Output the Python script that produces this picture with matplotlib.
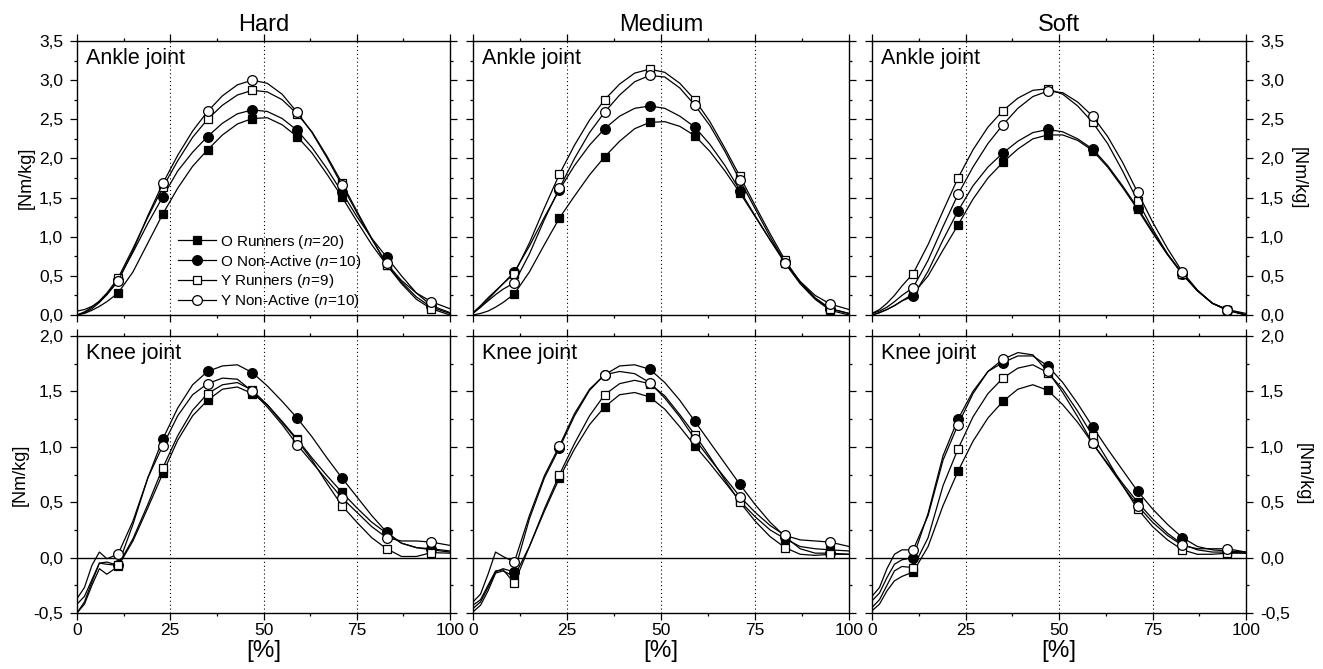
import numpy as np
import matplotlib
matplotlib.use("Agg")
import matplotlib.pyplot as plt
from matplotlib.ticker import MultipleLocator, FuncFormatter

plt.rcParams['font.family'] = ['Liberation Sans', 'DejaVu Sans']
plt.rcParams['mathtext.fontset'] = 'custom'
plt.rcParams['mathtext.it'] = 'Liberation Sans:italic'
plt.rcParams['mathtext.rm'] = 'Liberation Sans'

# --- data ---
PCT = [0, 2, 4, 6, 8, 11, 15, 19, 23, 27, 31, 35, 39, 43, 47, 51, 55, 59,
       63, 67, 71, 75, 79, 83, 87, 91, 95, 100]
SURFACES = ["Hard", "Medium", "Soft"]
JOINTS = ["Ankle joint", "Knee joint"]
GROUPS = ["O Runners ($\\mathit{n}\\!=\\!\\mathit{20}$)",
          "O Non-Active ($\\mathit{n}\\!=\\!\\mathit{10}$)",
          "Y Runners ($\\mathit{n}\\!=\\!\\mathit{9}$)",
          "Y Non-Active ($\\mathit{n}\\!=\\!\\mathit{10}$)"]
X_TICKS = [0, 25, 50, 75, 100]

# ankle, hard
ankle_hard_or  = [0.00, 0.02, 0.06, 0.11, 0.17, 0.28, 0.55, 0.92, 1.29, 1.62, 1.90, 2.11, 2.30, 2.44, 2.51, 2.52, 2.43, 2.28, 2.07, 1.80, 1.51, 1.20, 0.90, 0.64, 0.42, 0.23, 0.10, 0.02]
ankle_hard_ona = [0.00, 0.03, 0.08, 0.16, 0.26, 0.45, 0.80, 1.17, 1.51, 1.84, 2.08, 2.28, 2.45, 2.57, 2.62, 2.60, 2.51, 2.36, 2.14, 1.87, 1.57, 1.26, 0.98, 0.74, 0.50, 0.28, 0.12, 0.03]
ankle_hard_yr  = [0.00, 0.04, 0.10, 0.18, 0.28, 0.47, 0.85, 1.25, 1.63, 1.97, 2.27, 2.50, 2.68, 2.81, 2.87, 2.85, 2.75, 2.57, 2.34, 2.03, 1.69, 1.33, 0.98, 0.64, 0.40, 0.20, 0.08, 0.00]
ankle_hard_yna = [0.05, 0.07, 0.11, 0.17, 0.26, 0.43, 0.82, 1.27, 1.68, 2.04, 2.35, 2.60, 2.80, 2.94, 3.00, 2.96, 2.82, 2.59, 2.33, 2.01, 1.66, 1.31, 0.97, 0.66, 0.44, 0.28, 0.17, 0.08]

# ankle, medium
ankle_med_or  = [0.00, 0.02, 0.05, 0.10, 0.16, 0.27, 0.55, 0.90, 1.24, 1.52, 1.79, 2.02, 2.22, 2.38, 2.46, 2.47, 2.41, 2.29, 2.09, 1.84, 1.56, 1.26, 0.96, 0.66, 0.40, 0.20, 0.06, 0.00]
ankle_med_ona = [0.02, 0.10, 0.20, 0.30, 0.40, 0.55, 0.88, 1.25, 1.60, 1.91, 2.17, 2.38, 2.54, 2.64, 2.67, 2.64, 2.54, 2.40, 2.18, 1.91, 1.59, 1.27, 0.96, 0.68, 0.42, 0.22, 0.08, 0.02]
ankle_med_yr  = [0.03, 0.12, 0.22, 0.31, 0.40, 0.53, 0.92, 1.37, 1.80, 2.17, 2.49, 2.75, 2.95, 3.09, 3.14, 3.10, 2.96, 2.75, 2.47, 2.13, 1.77, 1.40, 1.04, 0.70, 0.42, 0.21, 0.08, 0.02]
ankle_med_yna = [0.03, 0.10, 0.18, 0.26, 0.33, 0.41, 0.78, 1.22, 1.62, 2.00, 2.33, 2.59, 2.81, 2.98, 3.06, 3.04, 2.90, 2.68, 2.42, 2.09, 1.72, 1.36, 1.00, 0.67, 0.43, 0.25, 0.14, 0.07]

# ankle, soft
ankle_soft_or  = [0.00, 0.03, 0.07, 0.12, 0.18, 0.27, 0.50, 0.83, 1.15, 1.48, 1.75, 1.95, 2.12, 2.25, 2.30, 2.30, 2.23, 2.10, 1.89, 1.63, 1.35, 1.05, 0.77, 0.52, 0.31, 0.15, 0.06, 0.00]
ankle_soft_ona = [0.00, 0.03, 0.07, 0.12, 0.18, 0.24, 0.56, 0.96, 1.33, 1.65, 1.89, 2.07, 2.22, 2.33, 2.37, 2.34, 2.25, 2.12, 1.91, 1.65, 1.37, 1.07, 0.78, 0.53, 0.31, 0.15, 0.07, 0.00]
ankle_soft_yr  = [0.02, 0.07, 0.15, 0.25, 0.37, 0.53, 0.90, 1.33, 1.75, 2.11, 2.40, 2.61, 2.77, 2.87, 2.89, 2.82, 2.67, 2.46, 2.19, 1.84, 1.46, 1.10, 0.78, 0.52, 0.31, 0.15, 0.06, 0.00]
ankle_soft_yna = [0.02, 0.05, 0.10, 0.17, 0.25, 0.35, 0.70, 1.13, 1.54, 1.89, 2.19, 2.43, 2.64, 2.79, 2.86, 2.84, 2.72, 2.54, 2.28, 1.95, 1.57, 1.19, 0.85, 0.55, 0.32, 0.15, 0.07, 0.02]

# knee, hard
knee_hard_or  = [-0.50, -0.42, -0.25, -0.10, -0.15, -0.08, 0.15, 0.45, 0.76, 1.06, 1.28, 1.42, 1.52, 1.54, 1.48, 1.38, 1.23, 1.07, 0.90, 0.74, 0.59, 0.45, 0.32, 0.22, 0.13, 0.09, 0.07, 0.05]
knee_hard_ona = [-0.42, -0.35, -0.20, -0.05, -0.04, -0.07, 0.30, 0.72, 1.07, 1.35, 1.56, 1.68, 1.73, 1.74, 1.67, 1.55, 1.41, 1.26, 1.09, 0.90, 0.72, 0.55, 0.38, 0.23, 0.13, 0.09, 0.08, 0.06]
knee_hard_yr  = [-0.50, -0.40, -0.22, -0.05, -0.06, -0.07, 0.17, 0.48, 0.81, 1.10, 1.33, 1.48, 1.56, 1.58, 1.51, 1.38, 1.22, 1.06, 0.88, 0.67, 0.47, 0.32, 0.18, 0.08, 0.01, 0.01, 0.045, 0.04]
knee_hard_yna = [-0.37, -0.27, -0.07, 0.05, -0.01, 0.03, 0.33, 0.72, 1.01, 1.28, 1.47, 1.57, 1.62, 1.61, 1.50, 1.36, 1.20, 1.02, 0.86, 0.70, 0.54, 0.41, 0.28, 0.18, 0.15, 0.15, 0.14, 0.11]

# knee, medium
knee_med_or  = [-0.49, -0.43, -0.30, -0.14, -0.12, -0.17, 0.10, 0.42, 0.72, 0.98, 1.20, 1.36, 1.47, 1.49, 1.45, 1.34, 1.18, 1.01, 0.85, 0.68, 0.51, 0.37, 0.25, 0.17, 0.10, 0.08, 0.07, 0.06]
knee_med_ona = [-0.46, -0.40, -0.27, -0.13, -0.10, -0.13, 0.35, 0.72, 0.99, 1.28, 1.51, 1.65, 1.73, 1.74, 1.70, 1.58, 1.42, 1.23, 1.04, 0.85, 0.66, 0.48, 0.32, 0.19, 0.08, 0.04, 0.04, 0.03]
knee_med_yr  = [-0.43, -0.38, -0.25, -0.12, -0.11, -0.23, 0.10, 0.44, 0.75, 1.03, 1.28, 1.47, 1.57, 1.60, 1.57, 1.46, 1.29, 1.11, 0.91, 0.70, 0.50, 0.33, 0.19, 0.09, 0.03, 0.02, 0.03, 0.03]
knee_med_yna = [-0.40, -0.33, -0.15, 0.05, 0.01, -0.04, 0.38, 0.74, 1.01, 1.30, 1.52, 1.65, 1.68, 1.66, 1.58, 1.44, 1.27, 1.07, 0.89, 0.72, 0.55, 0.41, 0.29, 0.20, 0.16, 0.15, 0.14, 0.10]

# knee, soft
knee_soft_or  = [-0.48, -0.42, -0.30, -0.21, -0.17, -0.13, 0.10, 0.47, 0.78, 1.05, 1.26, 1.41, 1.52, 1.56, 1.51, 1.38, 1.22, 1.03, 0.85, 0.67, 0.50, 0.35, 0.22, 0.12, 0.07, 0.05, 0.05, 0.04]
knee_soft_ona = [-0.39, -0.32, -0.18, -0.06, -0.02, 0.00, 0.40, 0.92, 1.25, 1.50, 1.68, 1.76, 1.82, 1.82, 1.73, 1.58, 1.39, 1.18, 0.98, 0.79, 0.60, 0.44, 0.30, 0.18, 0.10, 0.07, 0.06, 0.05]
knee_soft_yr  = [-0.45, -0.38, -0.25, -0.12, -0.08, -0.09, 0.18, 0.65, 0.98, 1.27, 1.48, 1.62, 1.71, 1.74, 1.67, 1.52, 1.32, 1.10, 0.88, 0.65, 0.44, 0.28, 0.16, 0.07, 0.03, 0.03, 0.04, 0.04]
knee_soft_yna = [-0.35, -0.27, -0.10, 0.03, 0.07, 0.07, 0.38, 0.88, 1.20, 1.48, 1.68, 1.79, 1.85, 1.83, 1.68, 1.49, 1.27, 1.03, 0.84, 0.65, 0.47, 0.32, 0.20, 0.11, 0.08, 0.08, 0.08, 0.05]

PANELS = [
    [[ankle_hard_or, ankle_hard_ona, ankle_hard_yr, ankle_hard_yna],
     [ankle_med_or, ankle_med_ona, ankle_med_yr, ankle_med_yna],
     [ankle_soft_or, ankle_soft_ona, ankle_soft_yr, ankle_soft_yna]],
    [[knee_hard_or, knee_hard_ona, knee_hard_yr, knee_hard_yna],
     [knee_med_or, knee_med_ona, knee_med_yr, knee_med_yna],
     [knee_soft_or, knee_soft_ona, knee_soft_yr, knee_soft_yna]],
]

# marker style per group: (marker, face, size)
STYLES = [("s", "black", 6), ("o", "black", 7), ("s", "white", 6), ("o", "white", 7)]
MARK_EVERY = slice(5, 27, 3)   # markers at 11, 23, ..., 95 %

comma = FuncFormatter(lambda v, p: f"{v:.1f}".replace(".", ","))

fig = plt.figure(figsize=(13.23, 6.69), dpi=100)
lefts = [77 / 1323, 473 / 1323, 872 / 1323]
widths = [373 / 1323, 376 / 1323, 374 / 1323]
row_box = [(1 - 315 / 669, 274 / 669), (1 - 613 / 669, 277 / 669)]
ylims = [(0, 3.5), (-0.5, 2.0)]

for r in range(2):
    for c in range(3):
        ax = fig.add_axes([lefts[c], row_box[r][0], widths[c], row_box[r][1]])
        for g in range(4):
            mk, face, ms = STYLES[g]
            ax.plot(PCT, PANELS[r][c][g], color="black", lw=0.9,
                    marker=mk, markevery=MARK_EVERY, ms=ms,
                    mfc=face, mec="black", mew=0.9, label=GROUPS[g], zorder=3 + g)
        for xv in (25, 50, 75):
            ax.axvline(xv, color="black", lw=0.8, ls=(0, (1, 2.5)), zorder=1)
        if r == 1:
            ax.axhline(0, color="black", lw=1.0, zorder=2)

        ax.set_xlim(0, 100)
        ax.set_ylim(*ylims[r])
        ax.xaxis.set_major_locator(MultipleLocator(25))
        ax.xaxis.set_minor_locator(MultipleLocator(12.5))
        ax.yaxis.set_major_locator(MultipleLocator(0.5))
        ax.yaxis.set_minor_locator(MultipleLocator(0.25))
        ax.yaxis.set_major_formatter(comma)
        ax.tick_params(which="both", direction="out", top=True, right=True,
                       labelsize=12.5, width=0.9)
        ax.tick_params(which="major", length=5)
        ax.tick_params(which="minor", length=2.5)
        ax.tick_params(axis="y", pad=5)
        ax.tick_params(axis="x", pad=2)
        for sp in ax.spines.values():
            sp.set_linewidth(1.0)

        ax.tick_params(labelbottom=(r == 1), labelleft=(c == 0), labelright=(c == 2))
        if c == 0:
            ax.set_ylabel("[Nm/kg]", fontsize=13, labelpad=3)
        if c == 2:
            ax.yaxis.set_label_position("right")
            ax.set_ylabel("[Nm/kg]", fontsize=13, rotation=270, labelpad=16)
        if r == 1:
            ax.set_xticks(X_TICKS)
            ax.set_xlabel("[%]", fontsize=17.5, labelpad=2)
        if r == 0:
            ax.set_title(SURFACES[c], fontsize=17, pad=7)

        ax.text(0.025, 0.975, JOINTS[r], transform=ax.transAxes,
                fontsize=15.5, ha="left", va="top")

        if r == 0 and c == 0:
            ax.legend(loc="upper left", bbox_to_anchor=(0.27, 0.30),
                      frameon=False, fontsize=11, handlelength=2.5,
                      labelspacing=0.12, handletextpad=0.3,
                      borderpad=0, borderaxespad=0)

fig.savefig("out.png", dpi=100)
